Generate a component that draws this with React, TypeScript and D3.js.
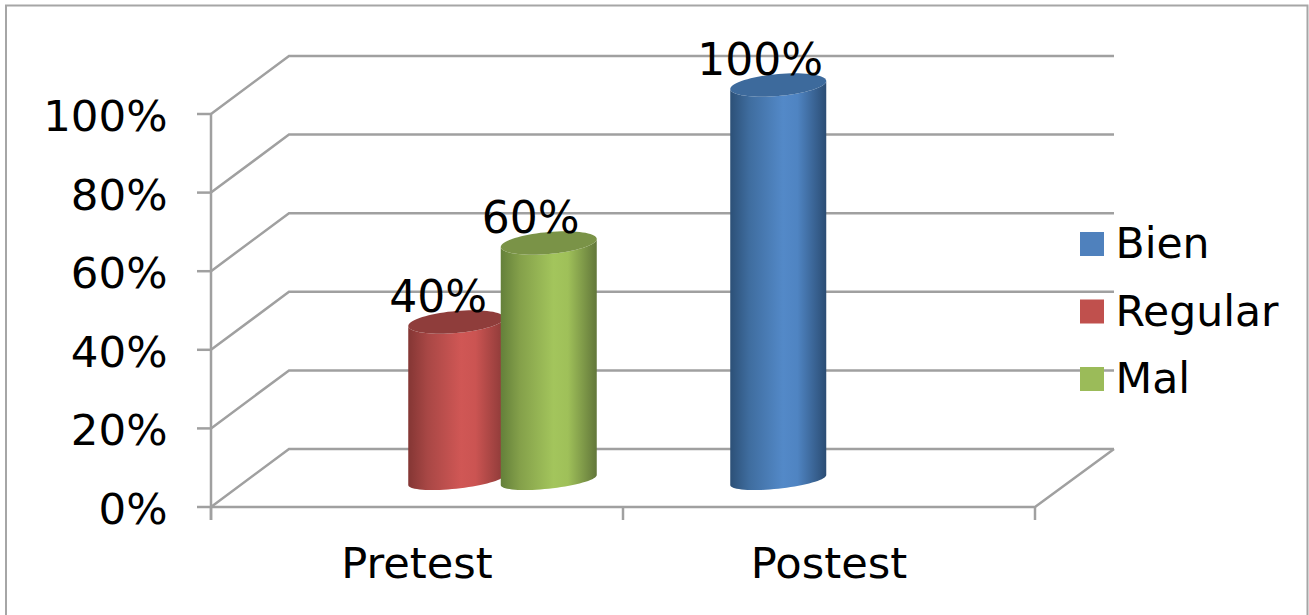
import React from "react";
import * as d3 from "d3";

const categories = ["Pretest", "Postest"];
const seriesNames = ["Bien", "Regular", "Mal"];
const bienValues = [0, 100];
const regularValues = [40, 0];
const malValues = [60, 0];
const valueTicks = [0, 20, 40, 60, 80, 100];

const seriesColors = ["#4f81bd", "#c0504d", "#9bbb59"];
const bodyStops = [
  ["#2c5077", "#3f6d9f", "#5389c8", "#4f84c2", "#2b4d74"],
  ["#843634", "#a84745", "#d05755", "#cb5452", "#8c3a38"],
  ["#64803a", "#84a04a", "#a3c55c", "#9fc059", "#62773a"],
];
const capColors = ["#3d6a9c", "#8f3d3b", "#7a9347"];

const WIDTH = 1309;
const HEIGHT = 615;
const DEPTH_X = 78;
const DEPTH_Y = 58;
const GRID = "#a0a0a0";
const FONT = "'DejaVu Sans', Verdana, sans-serif";

const axisX = d3.scaleBand<string>().domain(categories).range([211, 1035]);
const axisY = d3.scaleLinear().domain([0, 100]).range([507, 114]);

// Cylinders stand in the middle of the floor, a little off the front axis.
const barGroupX = d3.scaleBand<string>().domain(categories).range([249, 1078]);
const barSlot = d3.scaleBand<string>().domain(seriesNames).range([-138.75, 138.75]);
const barY = d3.scaleLinear().domain([0, 100]).range([480, 85]);

const RX = 48;
// The top rim is seen more openly than the base rim.
const TOP_RIM = { tilt: 4, ry: 11 };
const BASE_RIM = { tilt: 5, ry: 8.7 };

// Point on the tilted elliptical rim of a cylinder.
const rimPoint = (
  cx: number,
  cy: number,
  t: number,
  rim: { tilt: number; ry: number }
): [number, number] => [
  cx + RX * Math.cos(t),
  cy - rim.tilt * Math.cos(t) + rim.ry * Math.sin(t),
];

const line = d3.line();

const capPath = (cx: number, cy: number) =>
  line(d3.range(0, 73).map((i) => rimPoint(cx, cy, (i / 72) * 2 * Math.PI, TOP_RIM))) + "Z";

const bodyPath = (cx: number, top: number, base: number) => {
  const lower = d3.range(0, 37).map((i) => (i / 36) * Math.PI);
  const along = lower.map((t) => rimPoint(cx, base, t, BASE_RIM));
  const back = lower.slice().reverse().map((t) => rimPoint(cx, top, t, TOP_RIM));
  return line([...along, ...back]) + "Z";
};

const valuesBySeries = [bienValues, regularValues, malValues];

const marks = seriesNames.flatMap((name, s) =>
  categories
    .map((cat, c) => ({ name, s, cat, value: valuesBySeries[s][c] }))
    .filter((m) => m.value > 0)
);

const barCenter = (cat: string, name: string) =>
  (barGroupX(cat) as number) +
  barGroupX.bandwidth() / 2 +
  (barSlot(name) as number) +
  barSlot.bandwidth() / 2;

export default function App() {
  const backRight = axisX.range()[1] + DEPTH_X + 1;
  const left = axisX.range()[0];
  const right = axisX.range()[1];
  const xTicks = [left, ...categories.map((c) => (axisX(c) as number) + axisX.bandwidth())];

  return (
    <svg
      width={WIDTH}
      height={HEIGHT}
      viewBox={`0 0 ${WIDTH} ${HEIGHT}`}
      style={{ position: "absolute", left: 0, top: 0, background: "#fff" }}
      fontFamily={FONT}
    >
      <defs>
        {seriesNames.map((name, s) => (
          <linearGradient key={name} id={`body-${s}`} x1="0" x2="1" y1="0" y2="0">
            {bodyStops[s].map((color, i) => (
              <stop key={i} offset={[0, 0.2, 0.55, 0.7, 1][i]} stopColor={color} />
            ))}
          </linearGradient>
        ))}
      </defs>

      {/* outer frame */}
      <path d={`M6,${HEIGHT}V5.5H1307.5V${HEIGHT}`} fill="none" stroke="#a6a6a6" strokeWidth={2} />

      {/* back wall, side wall and floor lines */}
      {valueTicks.map((v) => {
        const y = axisY(v);
        return (
          <path
            key={v}
            d={`M${left},${y}L${left + DEPTH_X},${y - DEPTH_Y}H${backRight}`}
            fill="none"
            stroke={GRID}
            strokeWidth={2.5}
          />
        );
      })}
      <path
        d={`M${left},${axisY(0)}H${right}L${backRight},${axisY(0) - DEPTH_Y}`}
        fill="none"
        stroke={GRID}
        strokeWidth={2.5}
      />

      {/* axis lines and tick marks */}
      <line x1={left} x2={left} y1={axisY(100)} y2={520} stroke={GRID} strokeWidth={2.5} />
      {valueTicks.map((v) => (
        <line key={v} x1={197} x2={left} y1={axisY(v)} y2={axisY(v)} stroke={GRID} strokeWidth={2.5} />
      ))}
      {xTicks.map((x) => (
        <line key={x} x1={x} x2={x} y1={axisY(0)} y2={520} stroke={GRID} strokeWidth={2.5} />
      ))}

      {/* value axis labels */}
      {valueTicks.map((v) => (
        <text key={v} x={167.5} y={axisY(v) + 17} textAnchor="end" fontSize={43.5} fill="#000">
          {v}%
        </text>
      ))}

      {/* category labels */}
      {categories.map((c) => (
        <text
          key={c}
          x={(axisX(c) as number) + axisX.bandwidth() / 2}
          y={578}
          textAnchor="middle"
          fontSize={43.2}
          fill="#000"
        >
          {c}
        </text>
      ))}

      {/* cylinders */}
      {marks.map((m) => {
        const cx = barCenter(m.cat, m.name);
        return (
          <g key={`${m.name}-${m.cat}`}>
            <path d={bodyPath(cx, barY(m.value), barY(0))} fill={`url(#body-${m.s})`} />
            <path d={capPath(cx, barY(m.value))} fill={capColors[m.s]} />
          </g>
        );
      })}

      {/* data labels */}
      {marks.map((m) => (
        <text
          key={`${m.name}-${m.cat}-label`}
          x={barCenter(m.cat, m.name) - 18}
          y={barY(m.value) - 10}
          textAnchor="middle"
          fontSize={44}
          fill="#000"
        >
          {m.value}%
        </text>
      ))}

      {/* legend */}
      {seriesNames.map((name, s) => (
        <g key={name} transform={`translate(1080,${232 + s * 67.5})`}>
          <rect width={24} height={24} fill={seriesColors[s]} />
          <text x={35.5} y={26} fontSize={42.5} fill="#000">
            {name}
          </text>
        </g>
      ))}
    </svg>
  );
}
